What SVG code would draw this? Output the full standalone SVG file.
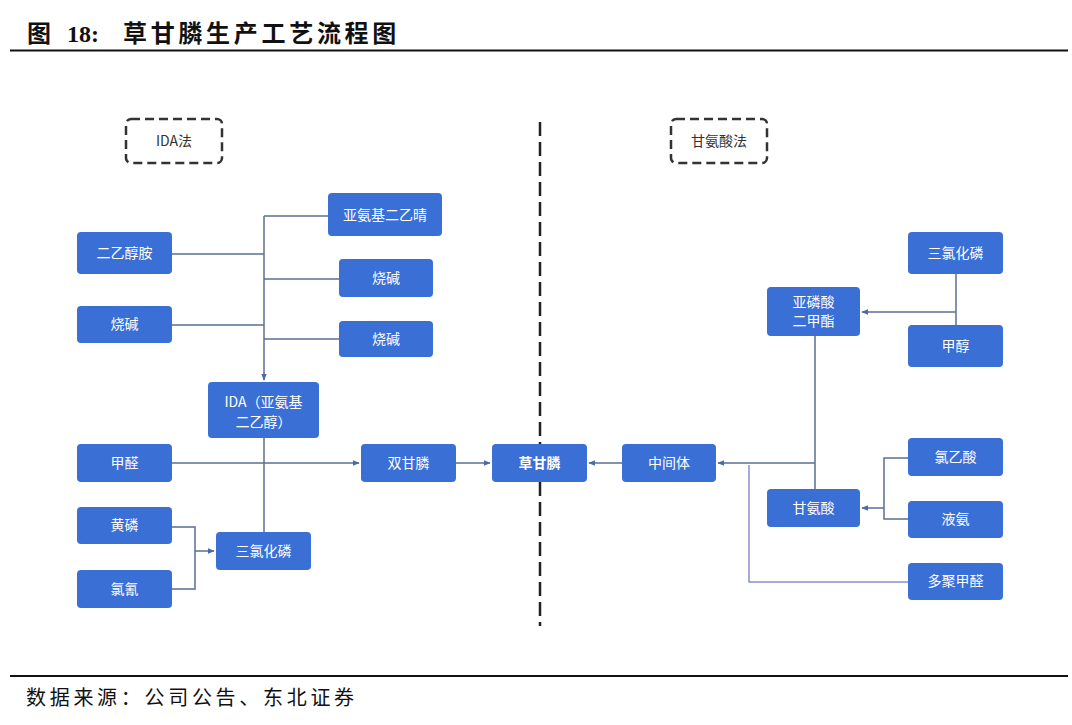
<svg xmlns="http://www.w3.org/2000/svg" width="1072" height="725" viewBox="0 0 1072 725">
<style>
.n rect{fill:#3a6fd6;}
.n text{fill:#fff;font-family:"Noto Sans CJK SC","Noto Sans",sans-serif;font-size:14px;text-anchor:middle;}
.c path,.c line{stroke:#5b6e93;stroke-width:1.5;fill:none;}
.d rect{fill:#fff;stroke:#333;stroke-width:2.5;stroke-dasharray:9,5;}
.d text{fill:#333;font-family:"Noto Sans CJK SC","Noto Sans",sans-serif;font-size:14px;text-anchor:middle;}
.t{font-family:"Liberation Serif","Noto Sans CJK SC",serif;}
</style>
<defs>
<marker id="a" viewBox="0 0 10 10" refX="9" refY="5" markerWidth="7" markerHeight="7" orient="auto" markerUnits="userSpaceOnUse"><path d="M0,1 L10,5 L0,9 Z" fill="#4a6aa8"/></marker>
</defs>
<rect width="1072" height="725" fill="#fff"/>
<g class="t" font-size="24" font-weight="bold" fill="#111">
<text x="27" y="42">图</text>
<text x="67" y="42">18:</text>
<text x="123" y="42" letter-spacing="3.7">草甘膦生产工艺流程图</text>
</g>
<line x1="10" y1="50.5" x2="1068" y2="50.5" stroke="#111" stroke-width="2"/>
<line x1="10" y1="676" x2="1068" y2="676" stroke="#111" stroke-width="2"/>
<text class="t" x="26" y="705" font-size="20" letter-spacing="3.7" fill="#111">数据来源：公司公告、东北证券</text>

<line x1="540" y1="122" x2="540" y2="626" stroke="#222" stroke-width="2.5" stroke-dasharray="14,6"/>

<g id="g-ida" class="d"><rect x="126" y="119" width="96" height="44" rx="5"/><text x="174" y="146">IDA法</text></g>
<g id="g-gly" class="d"><rect x="671" y="119" width="96" height="44" rx="5"/><text x="719" y="146">甘氨酸法</text></g>

<g id="connectors" class="c">
<path d="M264,216 V380" marker-end="url(#a)"/>
<path d="M264,216 H328"/>
<path d="M172,254 H264"/>
<path d="M264,279 H339"/>
<path d="M172,325 H264"/>
<path d="M264,339 H339"/>
<path d="M264,438 V532"/>
<path d="M172,463 H359" marker-end="url(#a)"/>
<path d="M172,527 H195 V589 H172"/>
<path d="M195,551 H214" marker-end="url(#a)"/>
<path d="M456,463 H490" marker-end="url(#a)"/>
<path d="M622,463 H589" marker-end="url(#a)"/>
<path d="M815,336 V489"/>
<path d="M815,463 H718" marker-end="url(#a)"/>
<path d="M749,465 V582 H908" style="stroke:#8a8fcf"/>
<path d="M908,458 H884 V519 H908"/>
<path d="M884,508 H862" marker-end="url(#a)"/>
<path d="M956,274 V325"/>
<path d="M956,312 H862" marker-end="url(#a)"/>
</g>

<g id="n1" class="n"><rect x="77" y="232" width="95" height="42" rx="4"/><text x="124.5" y="258">二乙醇胺</text></g>
<g id="n2" class="n"><rect x="328" y="193" width="114" height="43" rx="4"/><text x="385" y="220">亚氨基二乙晴</text></g>
<g id="n3" class="n"><rect x="339" y="259" width="94" height="38" rx="4"/><text x="386" y="283">烧碱</text></g>
<g id="n4" class="n"><rect x="77" y="306" width="95" height="37" rx="4"/><text x="124.5" y="329">烧碱</text></g>
<g id="n5" class="n"><rect x="339" y="321" width="94" height="36" rx="4"/><text x="386" y="344">烧碱</text></g>
<g id="n6" class="n"><rect x="208" y="382" width="111" height="56" rx="4"/><text x="263.5" y="407">IDA（亚氨基</text><text x="263.5" y="427">二乙醇）</text></g>
<g id="n7" class="n"><rect x="77" y="444" width="95" height="38" rx="4"/><text x="124.5" y="468">甲醛</text></g>
<g id="n8" class="n"><rect x="361" y="444" width="95" height="38" rx="4"/><text x="408.5" y="468">双甘膦</text></g>
<g id="n9" class="n"><rect x="77" y="507" width="95" height="37" rx="4"/><text x="124.5" y="530">黄磷</text></g>
<g id="n10" class="n"><rect x="77" y="570" width="95" height="38" rx="4"/><text x="124.5" y="594">氯氰</text></g>
<g id="n11" class="n"><rect x="216" y="532" width="95" height="38" rx="4"/><text x="263.5" y="556">三氯化磷</text></g>
<g id="n12" class="n"><rect x="492" y="444" width="95" height="38" rx="4"/><text x="539.5" y="468" font-weight="bold">草甘膦</text></g>
<g id="n13" class="n"><rect x="622" y="444" width="94" height="38" rx="4"/><text x="669" y="468">中间体</text></g>
<g id="n14" class="n"><rect x="908" y="232" width="95" height="42" rx="4"/><text x="955.5" y="258">三氯化磷</text></g>
<g id="n15" class="n"><rect x="767" y="287" width="93" height="49" rx="4"/><text x="813.5" y="307">亚磷酸</text><text x="813.5" y="326">二甲酯</text></g>
<g id="n16" class="n"><rect x="908" y="325" width="95" height="42" rx="4"/><text x="955.5" y="351">甲醇</text></g>
<g id="n17" class="n"><rect x="908" y="438" width="95" height="38" rx="4"/><text x="955.5" y="462">氯乙酸</text></g>
<g id="n18" class="n"><rect x="767" y="489" width="93" height="38" rx="4"/><text x="813.5" y="513">甘氨酸</text></g>
<g id="n19" class="n"><rect x="908" y="501" width="95" height="37" rx="4"/><text x="955.5" y="524">液氨</text></g>
<g id="n20" class="n"><rect x="908" y="563" width="95" height="37" rx="4"/><text x="955.5" y="586">多聚甲醛</text></g>
</svg>
